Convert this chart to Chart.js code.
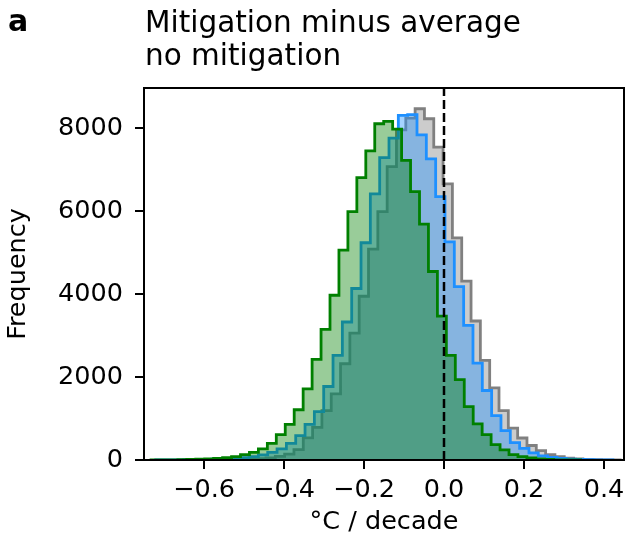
<!DOCTYPE html>
<html>
<head>
<meta charset="utf-8">
<script src="https://cdn.jsdelivr.net/npm/chart.js@4.4.1/dist/chart.umd.min.js"></script>
<style>
  html, body { margin: 0; padding: 0; background: #fff; }
  #wrap { width: 627px; height: 538px; }
</style>
</head>
<body>
<div id="wrap"><canvas id="chart" width="627" height="538"></canvas></div>
<script>
// histogram bins (left edge of first bin, bin width, counts)
const greyFirstEdge = -0.5848;
const greyBinWidth = 0.0233;
const greyCounts = [2, 3, 6, 10, 18, 30, 50, 85, 140, 250, 532, 789, 1192, 1596, 2321, 3061, 3948, 5085,
  5987, 7075, 7960, 8245, 8470, 8229, 7544, 6657, 5358, 4311, 3352, 2401, 1741, 1192, 770, 530, 350, 225,
  130, 80, 45, 25, 14, 8, 4, 2];

const blueFirstEdge = -0.7206;
const blueBinWidth = 0.023325;
const blueCounts = [2, 3, 5, 7, 10, 14, 20, 28, 38, 55, 80, 125, 184, 266, 400, 588, 860, 1168, 1772, 2522,
  3327, 4135, 5238, 6415, 7293, 7762, 8310, 8330, 7842, 7261, 6350, 5262, 4180, 3247, 2336, 1676, 1071, 708,
  420, 280, 170, 100, 60, 38, 22, 13, 7, 4, 2];

const greenFirstEdge = -0.7325;
const greenBinWidth = 0.022375;
const greenCounts = [2, 3, 5, 8, 12, 18, 28, 40, 56, 80, 128, 184, 266, 401, 612, 860, 1212, 1717, 2425, 3151,
  3973, 5061, 5987, 6809, 7455, 8108, 8163, 7980, 7225, 6471, 5690, 4545, 3470, 2522, 1939, 1289, 870, 612,
  370, 242, 128, 80, 48, 25, 12, 5, 2, 1];

const xTicks = [-0.6, -0.4, -0.2, 0.0, 0.2, 0.4];
const yTicks = [0, 2000, 4000, 6000, 8000];
const xMin = -0.75, xMax = 0.45;
const yMax = 8970;
const titleLines = ["Mitigation minus average", "no mitigation"];
const FONT = '"DejaVu Sans", sans-serif';

function stepPoints(firstEdge, width, counts) {
  const pts = [{ x: firstEdge, y: 0 }];
  counts.forEach((c, i) => pts.push({ x: firstEdge + i * width, y: c }));
  pts.push({ x: firstEdge + counts.length * width, y: 0 });
  return pts;
}

function histSet(label, pts, line, fillCol) {
  return {
    label: label,
    data: pts,
    stepped: "before",
    borderColor: line,
    backgroundColor: fillCol,
    borderWidth: 2.8,
    fill: "origin",
    pointRadius: 0,
  };
}

const framePlugin = {
  id: "frame",
  afterDraw(chart) {
    const { ctx, chartArea: a } = chart;
    ctx.save();
    ctx.strokeStyle = "#000";
    ctx.lineWidth = 2;
    ctx.strokeRect(a.left, a.top, a.right - a.left, a.bottom - a.top);
    ctx.fillStyle = "#000";
    ctx.textBaseline = "alphabetic";
    ctx.font = "bold 30px " + FONT;
    ctx.fillText("a", 8, 31);
    ctx.font = "29.5px " + FONT;
    titleLines.forEach((t, i) => ctx.fillText(t, a.left + 1, 32 + i * 33));
    ctx.restore();
  },
};

const fmtX = (v) => (v < -1e-9 ? "\u2212" : "") + Math.abs(v).toFixed(1);

new Chart(document.getElementById("chart"), {
  type: "line",
  data: {
    datasets: [
      {
        label: "zero",
        data: [{ x: 0, y: 0 }, { x: 0, y: yMax }],
        borderColor: "#000",
        borderWidth: 2.5,
        borderDash: [9, 4],
        fill: false,
        pointRadius: 0,
      },
      histSet("green", stepPoints(greenFirstEdge, greenBinWidth, greenCounts), "#008000", "rgba(0,128,0,0.4)"),
      histSet("blue", stepPoints(blueFirstEdge, blueBinWidth, blueCounts), "#1e90ff", "rgba(30,144,255,0.4)"),
      histSet("grey", stepPoints(greyFirstEdge, greyBinWidth, greyCounts), "#808080", "rgba(128,128,128,0.4)"),
    ],
  },
  plugins: [framePlugin],
  options: {
    responsive: false,
    animation: false,
    devicePixelRatio: 1,
    layout: { padding: { top: 88, right: 3, left: 0, bottom: 0 } },
    plugins: { legend: { display: false }, tooltip: { enabled: false } },
    scales: {
      x: {
        type: "linear",
        min: xMin,
        max: xMax,
        afterBuildTicks: (s) => { s.ticks = xTicks.map((v) => ({ value: v })); },
        afterFit: (s) => { s.height = 78; s.paddingLeft = 0; s.paddingRight = 0; },
        ticks: { callback: fmtX, color: "#000", font: { family: FONT, size: 25.5 }, padding: 6, maxRotation: 0 },
        grid: { display: true, drawOnChartArea: false, drawTicks: true, tickLength: 9, color: "#000", lineWidth: 2 },
        border: { display: true, color: "#000", width: 2 },
        title: { display: true, text: "°C / decade", color: "#000", font: { family: FONT, size: 25.5 }, padding: { top: 0, bottom: 0 } },
      },
      y: {
        min: 0,
        max: yMax,
        afterBuildTicks: (s) => { s.ticks = yTicks.map((v) => ({ value: v })); },
        afterFit: (s) => { s.width = 144; s.paddingTop = 0; s.paddingBottom = 0; },
        ticks: { callback: (v) => String(v), color: "#000", font: { family: FONT, size: 25.5 }, padding: 12 },
        grid: { display: true, drawOnChartArea: false, drawTicks: true, tickLength: 9, color: "#000", lineWidth: 2 },
        border: { display: true, color: "#000", width: 2 },
        title: { display: true, text: "Frequency", color: "#000", font: { family: FONT, size: 25.5 }, padding: { top: 3, bottom: 0 } },
      },
    },
  },
});
</script>
</body>
</html>
